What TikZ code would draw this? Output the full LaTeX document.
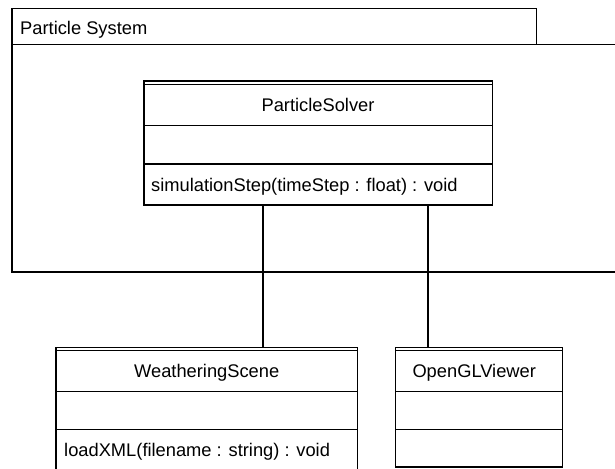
\documentclass[tikz,border=0pt]{standalone}
\usepackage{fontspec}
\setmainfont{Liberation Sans}
\usetikzlibrary{calc}
\begin{document}
\begin{tikzpicture}[x=1pt,y=-1pt,
  every node/.style={font=\fontsize{18.3}{22}\selectfont},
  edge/.style={line width=1.5pt, black},
  classbox/.style={draw, line width=1.4pt, inner sep=0pt, outer sep=0pt, anchor=north west},
  divider/.style={line width=1.4pt},
  topline/.style={line width=0.6pt},
  label/.style={inner sep=0pt}
]
\useasboundingbox (0,0) rectangle (615,468);

% package frame with its name tab
\node[classbox, minimum width=524.7pt, minimum height=36.2pt] (tab) at (12,8.5) {};
\node[label, anchor=base west] (pkgname) at (20,34.3) {Particle System};
\draw[edge] (tab.south east) -- (617,0 |- tab.south);
\draw[edge] (tab.south west) -- (12,272) -- (617,272);

% ParticleSolver
\node[classbox, minimum width=348.3pt, minimum height=124pt] (solver) at (144,81) {};
\draw[topline] ($(solver.north west)+(0,3)$) -- ($(solver.north east)+(0,3)$);
\draw[divider] (solver.west |- 0,125.7) -- (solver.east |- 0,125.7);
\draw[divider] (solver.west |- 0,164) -- (solver.east |- 0,164);
\node[label, anchor=base] (solvername) at (318,111.5) {ParticleSolver};
\node[label, anchor=base west] (solverop) at (151,191) {simulationStep(timeStep : float) : void};

% WeatheringScene
\node[classbox, minimum width=301.3pt, minimum height=125pt] (scene) at (56,347.3) {};
\draw[topline] ($(scene.north west)+(0,3)$) -- ($(scene.north east)+(0,3)$);
\draw[divider] (scene.west |- 0,391.3) -- (scene.east |- 0,391.3);
\draw[divider] (scene.west |- 0,429.3) -- (scene.east |- 0,429.3);
\node[label, anchor=base] (scenename) at (206.7,377) {WeatheringScene};
\node[label, anchor=base west] (sceneop) at (64,456.5) {loadXML(filename : string) : void};

% OpenGLViewer
\node[classbox, minimum width=166.6pt, minimum height=119.7pt] (viewer) at (395.7,347.3) {};
\draw[topline] ($(viewer.north west)+(0,3)$) -- ($(viewer.north east)+(0,3)$);
\draw[divider] (viewer.west |- 0,391.3) -- (viewer.east |- 0,391.3);
\draw[divider] (viewer.west |- 0,429.3) -- (viewer.east |- 0,429.3);
\node[label, anchor=base west] (viewername) at (412.3,377) {OpenGLViewer};

% associations
\draw[edge] (263,0 |- solver.south) -- (263,0 |- scene.north);
\draw[edge] (428,0 |- solver.south) -- (428,0 |- viewer.north);
\end{tikzpicture}
\end{document}
